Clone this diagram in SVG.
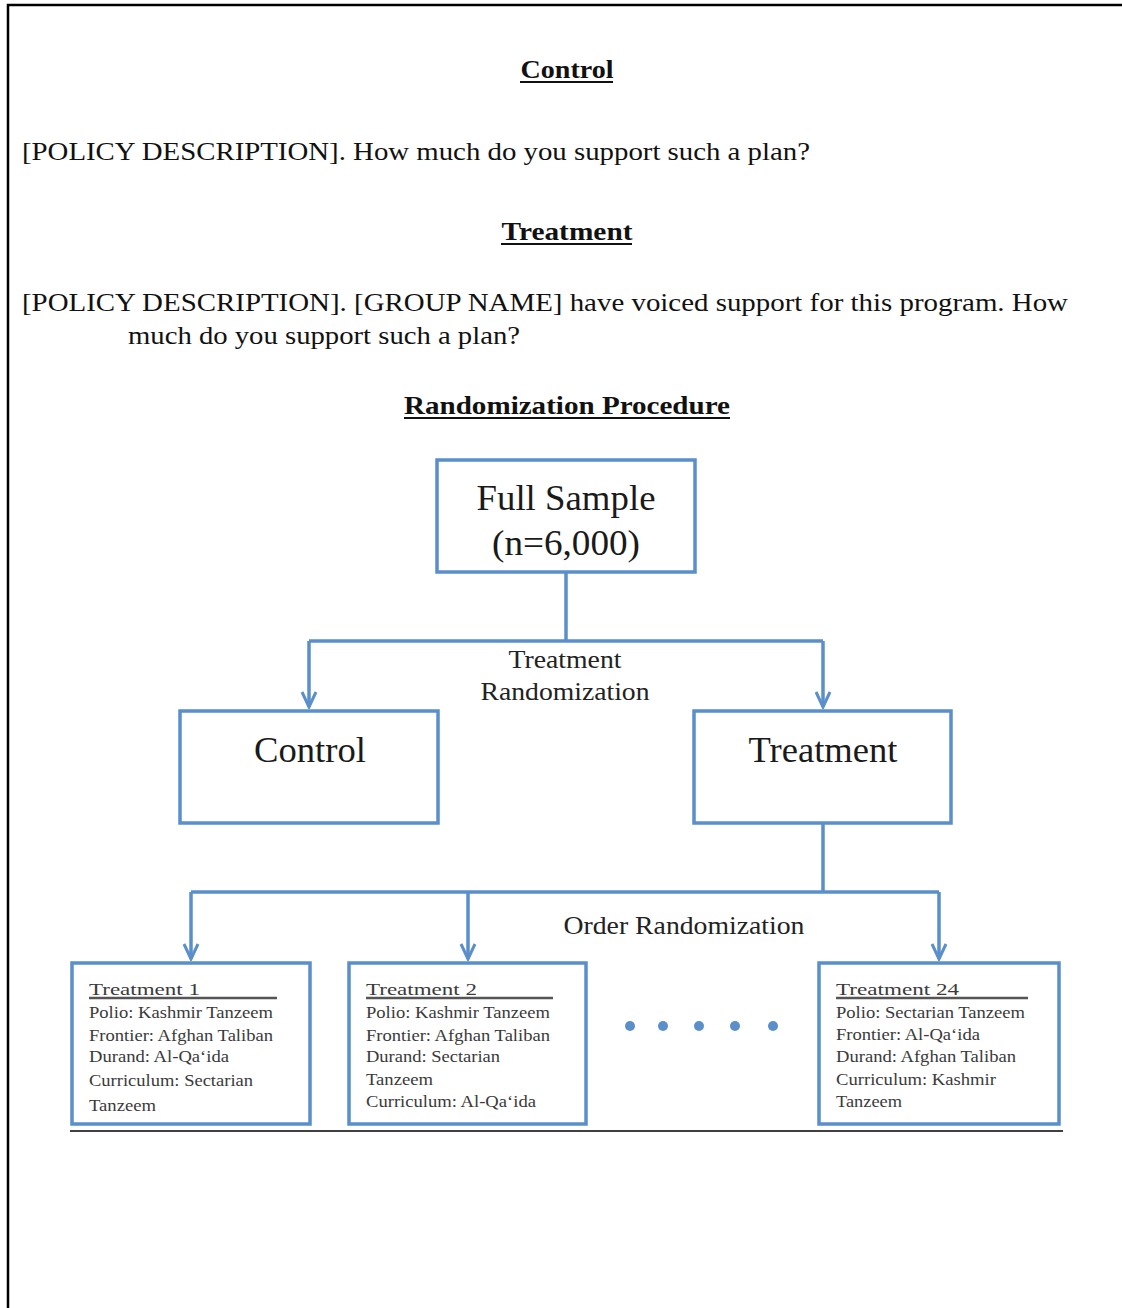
<svg xmlns="http://www.w3.org/2000/svg" width="1122" height="1308" viewBox="0 0 1122 1308">
<defs>
<style>
.doc{font-family:"Liberation Serif","Times New Roman",serif;fill:#111;}
.body{font-size:26px;}
.head{font-size:26px;font-weight:bold;}
.ul{stroke:#111;stroke-width:2;}
.box{fill:#fff;stroke:#5a8fcb;stroke-width:3.5;}
.big{font-family:"Liberation Serif","Times New Roman",serif;font-size:36px;fill:#1a1a1a;}
.lbl{font-family:"Liberation Serif","Times New Roman",serif;font-size:25px;fill:#222;}
.sm{font-family:"Liberation Serif","Times New Roman",serif;font-size:17px;fill:#3a3a3a;}
.conn{fill:none;stroke:#5a8fcb;stroke-width:3.5;}
.tul{stroke:#555;stroke-width:2.5;}
</style>
<marker id="arr" viewBox="0 0 18 18" refX="16" refY="9" markerWidth="18" markerHeight="18" markerUnits="userSpaceOnUse" orient="auto">
<path d="M1,2 L16,9 L1,16" fill="none" stroke="#5a8fcb" stroke-width="3"/>
</marker>
</defs>
<rect x="0" y="0" width="1122" height="1308" fill="#fff"/>
<!-- page border -->
<path d="M8,1308 V5 H1122" fill="none" stroke="#000" stroke-width="2.5"/>

<!-- questionnaire text -->
<g id="text-control">
<text class="doc head" x="567" y="78" text-anchor="middle" textLength="93" lengthAdjust="spacingAndGlyphs">Control</text>
<line class="ul" x1="520" y1="82" x2="613" y2="82"/>
<text class="doc body" x="22" y="160" textLength="788" lengthAdjust="spacingAndGlyphs">[POLICY DESCRIPTION]. How much do you support such a plan?</text>
</g>
<g id="text-treatment">
<text class="doc head" x="567" y="240" text-anchor="middle" textLength="131" lengthAdjust="spacingAndGlyphs">Treatment</text>
<line class="ul" x1="501" y1="244" x2="632" y2="244"/>
<text class="doc body" x="22" y="311" textLength="1046" lengthAdjust="spacingAndGlyphs">[POLICY DESCRIPTION]. [GROUP NAME] have voiced support for this program. How</text>
<text class="doc body" x="128" y="344" textLength="392" lengthAdjust="spacingAndGlyphs">much do you support such a plan?</text>
</g>
<g id="text-randomization">
<text class="doc head" x="567" y="414" text-anchor="middle" textLength="326" lengthAdjust="spacingAndGlyphs">Randomization Procedure</text>
<line class="ul" x1="404" y1="418" x2="730" y2="418"/>
</g>

<!-- connectors -->
<g id="connectors">
<path class="conn" d="M566,572 V641"/>
<path class="conn" d="M309,641 H823"/>
<path class="conn" d="M309,641 V707" marker-end="url(#arr)"/>
<path class="conn" d="M823,641 V707" marker-end="url(#arr)"/>
<path class="conn" d="M823,823 V892"/>
<path class="conn" d="M191,892 H939"/>
<path class="conn" d="M191,892 V959" marker-end="url(#arr)"/>
<path class="conn" d="M468,892 V959" marker-end="url(#arr)"/>
<path class="conn" d="M939,892 V959" marker-end="url(#arr)"/>
<text class="lbl" x="565" y="668" text-anchor="middle" textLength="113" lengthAdjust="spacingAndGlyphs">Treatment</text>
<text class="lbl" x="565" y="700" text-anchor="middle" textLength="169" lengthAdjust="spacingAndGlyphs">Randomization</text>
<text class="lbl" x="684" y="934" text-anchor="middle" textLength="241" lengthAdjust="spacingAndGlyphs">Order Randomization</text>
</g>

<g id="full-sample">
<rect class="box" x="437" y="460" width="258" height="112"/>
<text class="big" x="566" y="510" text-anchor="middle" textLength="179" lengthAdjust="spacingAndGlyphs">Full Sample</text>
<text class="big" x="566" y="555" text-anchor="middle" textLength="148" lengthAdjust="spacingAndGlyphs">(n=6,000)</text>
</g>
<g id="control">
<rect class="box" x="180" y="711" width="258" height="112"/>
<text class="big" x="310" y="762" text-anchor="middle" textLength="112" lengthAdjust="spacingAndGlyphs">Control</text>
</g>
<g id="treatment">
<rect class="box" x="694" y="711" width="257" height="112"/>
<text class="big" x="823" y="762" text-anchor="middle" textLength="149" lengthAdjust="spacingAndGlyphs">Treatment</text>
</g>

<g id="treatment-1">
<rect class="box" x="72" y="963" width="238" height="161"/>
<text class="sm" x="89" y="995" font-size="21" textLength="111" lengthAdjust="spacingAndGlyphs">Treatment 1</text>
<line class="tul" x1="89" y1="998" x2="277" y2="998"/>
<text class="sm" x="89" y="1018" textLength="184" lengthAdjust="spacingAndGlyphs">Polio: Kashmir Tanzeem</text>
<text class="sm" x="89" y="1041" textLength="184" lengthAdjust="spacingAndGlyphs">Frontier: Afghan Taliban</text>
<text class="sm" x="89" y="1062" textLength="140" lengthAdjust="spacingAndGlyphs">Durand: Al-Qa‘ida</text>
<text class="sm" x="89" y="1086" textLength="164" lengthAdjust="spacingAndGlyphs">Curriculum: Sectarian</text>
<text class="sm" x="89" y="1111" textLength="67" lengthAdjust="spacingAndGlyphs">Tanzeem</text>
</g>
<g id="treatment-2">
<rect class="box" x="349" y="963" width="237" height="161"/>
<text class="sm" x="366" y="995" font-size="21" textLength="111" lengthAdjust="spacingAndGlyphs">Treatment 2</text>
<line class="tul" x1="366" y1="998" x2="553" y2="998"/>
<text class="sm" x="366" y="1018" textLength="184" lengthAdjust="spacingAndGlyphs">Polio: Kashmir Tanzeem</text>
<text class="sm" x="366" y="1041" textLength="184" lengthAdjust="spacingAndGlyphs">Frontier: Afghan Taliban</text>
<text class="sm" x="366" y="1062" textLength="134" lengthAdjust="spacingAndGlyphs">Durand: Sectarian</text>
<text class="sm" x="366" y="1085" textLength="67" lengthAdjust="spacingAndGlyphs">Tanzeem</text>
<text class="sm" x="366" y="1107" textLength="170" lengthAdjust="spacingAndGlyphs">Curriculum: Al-Qa‘ida</text>
</g>
<g id="ellipsis" fill="#5a8fcb">
<circle cx="630" cy="1026" r="5"/>
<circle cx="663" cy="1026" r="5"/>
<circle cx="699" cy="1026" r="5"/>
<circle cx="735" cy="1026" r="5"/>
<circle cx="773" cy="1026" r="5"/>
</g>
<g id="treatment-24">
<rect class="box" x="819" y="963" width="240" height="161"/>
<text class="sm" x="836" y="995" font-size="21" textLength="123" lengthAdjust="spacingAndGlyphs">Treatment 24</text>
<line class="tul" x1="836" y1="998" x2="1028" y2="998"/>
<text class="sm" x="836" y="1018" textLength="189" lengthAdjust="spacingAndGlyphs">Polio: Sectarian Tanzeem</text>
<text class="sm" x="836" y="1040" textLength="144" lengthAdjust="spacingAndGlyphs">Frontier: Al-Qa‘ida</text>
<text class="sm" x="836" y="1062" textLength="180" lengthAdjust="spacingAndGlyphs">Durand: Afghan Taliban</text>
<text class="sm" x="836" y="1085" textLength="160" lengthAdjust="spacingAndGlyphs">Curriculum: Kashmir</text>
<text class="sm" x="836" y="1107" textLength="66" lengthAdjust="spacingAndGlyphs">Tanzeem</text>
</g>
<line x1="70" y1="1131" x2="1063" y2="1131" stroke="#000" stroke-width="1.5"/>
</svg>
